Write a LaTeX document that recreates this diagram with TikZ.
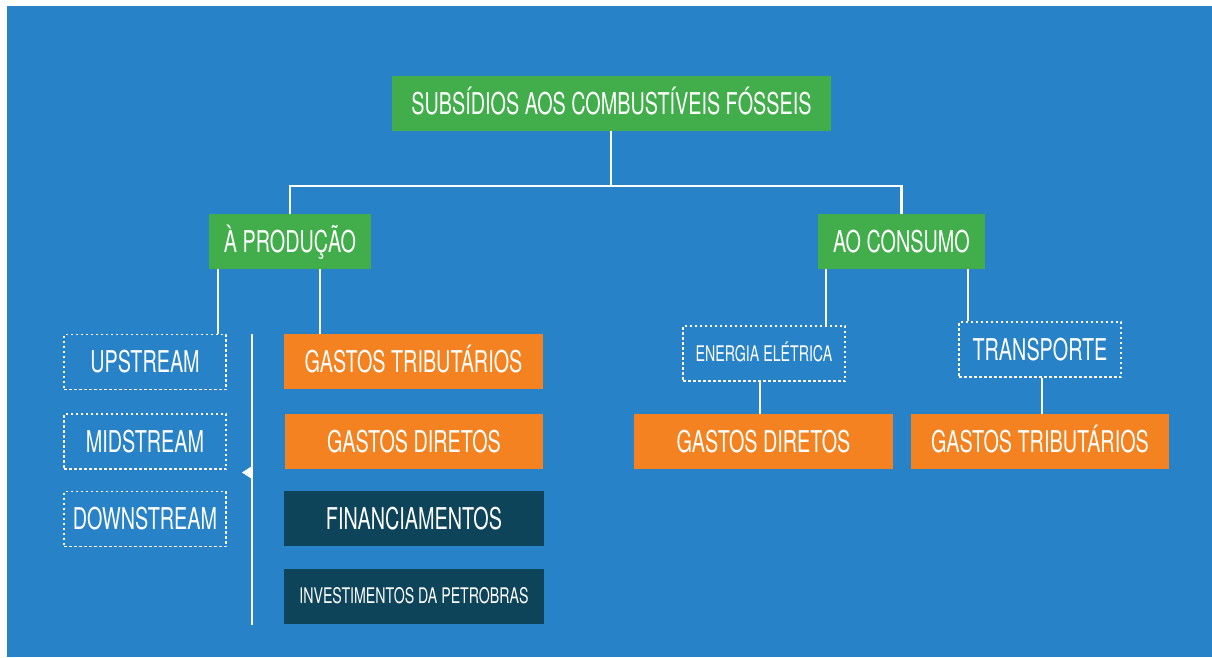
\documentclass[tikz,border=0pt]{standalone}
\usepackage{fontspec}
\setmainfont{TeX Gyre Heros}[FakeStretch=0.66]
\definecolor{fundo}{HTML}{2882C8}
\definecolor{verde}{HTML}{41AE4B}
\definecolor{laranja}{HTML}{F58220}
\definecolor{escuro}{HTML}{0D4459}
\tikzset{
  caixa/.style={inner sep=0pt, text=white, minimum height=55pt, text height=21.5pt, text depth=0pt, font=\fontsize{30}{31}\selectfont},
  pequeno/.style={text height=15.5pt, font=\fontsize{21.5}{22}\selectfont},
  verdebox/.style={caixa, fill=verde},
  laranjabox/.style={caixa, fill=laranja, minimum width=259pt},
  escurobox/.style={caixa, fill=escuro, minimum width=260pt},
  tracejado/.style={caixa, draw=white, line width=1.3pt, dash pattern=on 2.5pt off 2.5pt, minimum width=162pt},
  liga/.style={draw=white, line width=2.2pt}
}
\begin{document}
\begin{tikzpicture}[x=1pt, y=-1pt]
  \useasboundingbox (0,0) rectangle (1212,657);
  \fill[fundo] (7,6) rectangle (1212,657);
  % topo
  \node[verdebox, minimum width=439pt] (topo) at (611.5,103.5) {SUBSÍDIOS AOS COMBUSTÍVEIS FÓSSEIS};
  \node[verdebox, minimum width=162pt] (producao) at (290,241.5) {À PRODUÇÃO};
  \node[verdebox, minimum width=167pt] (consumo) at (901.5,241.5) {AO CONSUMO};
  % producao
  \node[tracejado] (upstream) at (145,362) {UPSTREAM};
  \node[tracejado] (midstream) at (145,441.5) {MIDSTREAM};
  \node[tracejado] (downstream) at (145,519) {DOWNSTREAM};
  \node[laranjabox] (tributarioA) at (413.5,361.5) {GASTOS TRIBUTÁRIOS};
  \node[laranjabox, minimum width=258pt] (diretosA) at (414,441.5) {GASTOS DIRETOS};
  \node[escurobox] (financ) at (414,518.5) {FINANCIAMENTOS};
  \node[escurobox, pequeno] (petrobras) at (414,596) {INVESTIMENTOS DA PETROBRAS};
  % consumo
  \node[tracejado, pequeno] (energia) at (764,353.5) {ENERGIA ELÉTRICA};
  \node[tracejado] (transporte) at (1040,349.5) {TRANSPORTE};
  \node[laranjabox] (diretosB) at (763.5,441.5) {GASTOS DIRETOS};
  \node[laranjabox, minimum width=258pt] (tributarioB) at (1040,441.5) {GASTOS TRIBUTÁRIOS};
  % ligacoes
  \coordinate (barra) at (611,186);
  \draw[liga] (topo.south -| barra) -- (barra);
  \draw[liga] (producao.north) |- (barra) -| (consumo.north);
  \draw[liga] (producao.south -| 218,0) -- (upstream.north -| 218,0);
  \draw[liga] (producao.south -| 320,0) -- (tributarioA.north -| 320,0);
  \draw[liga] (consumo.south -| 826,0) -- (energia.north -| 826,0);
  \draw[liga] (consumo.south -| 968,0) -- (transporte.north -| 968,0);
  \draw[liga] (energia.south -| 760,0) -- (diretosB.north -| 760,0);
  \draw[liga] (transporte.south -| 1042,0) -- (tributarioB.north -| 1042,0);
  % chave
  \coordinate (chaveA) at (252,334);
  \coordinate (chaveB) at (252,625);
  \draw[liga] (chaveA) -- (chaveB);
  \fill[white] (252,466) -- (242,472.5) -- (252,479) -- cycle;
\end{tikzpicture}
\end{document}
